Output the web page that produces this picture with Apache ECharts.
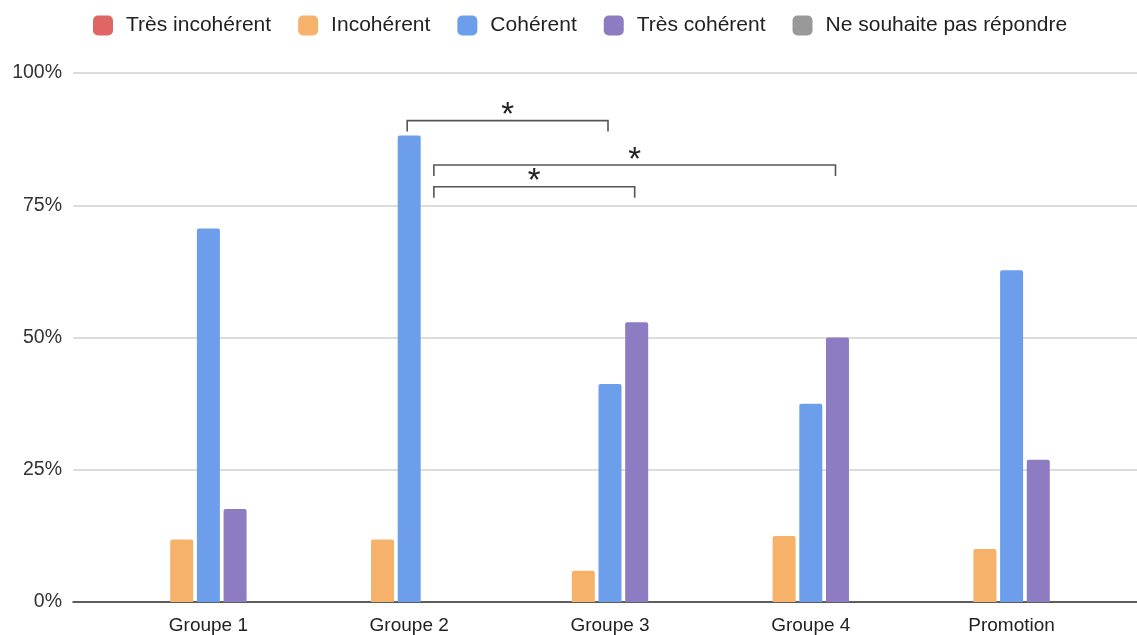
<!DOCTYPE html>
<html>
<head>
<meta charset="utf-8">
<script src="https://cdn.jsdelivr.net/npm/echarts@6/dist/echarts.min.js"></script>
<style>html,body{margin:0;padding:0;background:#fff}#c{width:1137px;height:635px}</style>
</head>
<body>
<div id="c"></div>
<script>
const categories = ['Groupe 1', 'Groupe 2', 'Groupe 3', 'Groupe 4', 'Promotion'];
const seriesNames = ['Très incohérent', 'Incohérent', 'Cohérent', 'Très cohérent', 'Ne souhaite pas répondre'];
const tresIncoherent = [0, 0, 0, 0, 0];
const incoherent = [11.8, 11.8, 5.9, 12.5, 10.0];
const coherent = [70.6, 88.2, 41.2, 37.5, 62.7];
const tresCoherent = [17.6, 0, 52.9, 50.0, 26.9];
const nePasRepondre = [0, 0, 0, 0, 0];
const yTickValues = [0, 25, 50, 75, 100];
// significance brackets: category index + series index at each end, level in %
const brackets = [
  { from: 1, fromSeries: 2, to: 2, toSeries: 2, level: 91.0, label: '*' },
  { from: 1, fromSeries: 3, to: 3, toSeries: 3, level: 82.6, label: '*' },
  { from: 1, fromSeries: 3, to: 2, toSeries: 3, level: 78.5, label: '*' }
];

const colors = ['#e06666', '#f6b26b', '#6d9eeb', '#8e7cc3', '#999999'];
const FONT = '"Liberation Sans", Arial, sans-serif';
const BAR_W = 23;
const GAP = 0.16;
const SLOT = BAR_W * (1 + GAP);
const seriesData = [tresIncoherent, incoherent, coherent, tresCoherent, nePasRepondre];

const chart = echarts.init(document.getElementById('c'), null, { renderer: 'canvas' });

const barSeries = seriesNames.map((n, i) => ({
  name: n,
  type: 'bar',
  xAxisIndex: 1,
  yAxisIndex: 1,
  data: seriesData[i],
  barWidth: BAR_W,
  barGap: (GAP * 100) + '%',
  itemStyle: { color: colors[i], borderRadius: [2, 2, 0, 0] },
  emphasis: { disabled: true }
}));

const bracketSeries = {
  type: 'custom',
  xAxisIndex: 1,
  yAxisIndex: 1,
  silent: true,
  clip: false,
  z: 10,
  data: brackets.map(b => [b.from, b.level]),
  renderItem: function (params, api) {
    const b = brackets[params.dataIndex];
    const p1 = api.coord([b.from, b.level]);
    const p2 = api.coord([b.to, b.level]);
    const x1 = p1[0] + (b.fromSeries - 2) * SLOT - 2;
    const x2 = p2[0] + (b.toSeries - 2) * SLOT - 2;
    const y = p1[1];
    const tick = 11;
    return {
      type: 'group',
      children: [
        { type: 'polyline', shape: { points: [[x1, y + tick], [x1, y], [x2, y], [x2, y + tick]] },
          style: { stroke: '#555', lineWidth: 1.6, fill: null } },
        { type: 'text', style: { text: b.label, x: (x1 + x2) / 2, y: y + 12, align: 'center', verticalAlign: 'bottom',
          font: '33px ' + FONT, fill: '#222' } }
      ]
    };
  }
};

chart.setOption({
  animation: false,
  backgroundColor: '#fff',
  color: colors,
  textStyle: { fontFamily: FONT },
  legend: {
    top: 10,
    left: 88,
    itemWidth: 20,
    itemHeight: 20,
    itemGap: 27,
    icon: 'roundRect',
    data: seriesNames,
    textStyle: { fontSize: 21, color: '#222', fontFamily: FONT, padding: [0, 0, 0, 8] }
  },
  grid: [
    { left: 73, right: 0, top: 73, bottom: 33 },
    { left: 108, right: 25, top: 73, bottom: 33 }
  ],
  xAxis: [
    { type: 'category', gridIndex: 0, data: categories,
      axisLine: { show: true, lineStyle: { color: '#333', width: 1.5 } },
      axisTick: { show: false }, axisLabel: { show: false } },
    { type: 'category', gridIndex: 1, data: categories,
      axisLine: { show: false }, axisTick: { show: false },
      axisLabel: { fontSize: 19, color: '#222', margin: 14, fontFamily: FONT } }
  ],
  yAxis: [
    { type: 'value', gridIndex: 0, min: 0, max: 100, interval: 25,
      axisLine: { show: false }, axisTick: { show: false },
      axisLabel: { fontSize: 19.5, color: '#333', margin: 11, fontFamily: FONT,
        formatter: v => yTickValues.includes(v) ? v + '%' : '' },
      splitLine: { lineStyle: { color: '#d0d0d0', width: 1.5 } } },
    { type: 'value', gridIndex: 1, min: 0, max: 100, interval: 25, show: false, splitLine: { show: false } }
  ],
  series: barSeries.concat([bracketSeries])
});
</script>
</body>
</html>
